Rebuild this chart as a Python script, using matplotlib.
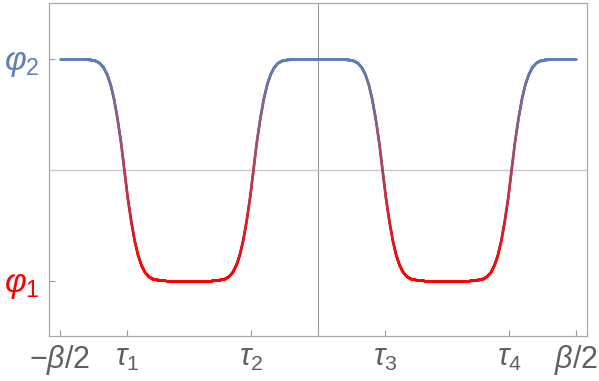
import numpy as np
import matplotlib
matplotlib.use('Agg')
import matplotlib.pyplot as plt
from matplotlib.collections import LineCollection
from matplotlib.colors import to_rgb

plt.rcParams['mathtext.fontset'] = 'custom'
plt.rcParams['mathtext.rm'] = 'Liberation Sans'
plt.rcParams['mathtext.it'] = 'Liberation Sans:italic'
plt.rcParams['font.family'] = 'Liberation Sans'

# kink centres (tau_i) and direction (-1: falling, +1: rising)
kink_x = [-0.75, -0.25, 0.25, 0.75]
kink_dir = [-1, 1, -1, 1]
# one falling kink (offset from centre, value)
prof_dx = [-0.16, -0.13, -0.11, -0.095, -0.08, -0.066, -0.053, -0.04,
           -0.027, -0.013, 0.0, 0.013, 0.027, 0.04, 0.053, 0.066,
           0.08, 0.095, 0.11, 0.13, 0.16]
prof_y = [1.0, 0.995, 0.985, 0.965, 0.925, 0.86, 0.77, 0.64,
          0.47, 0.25, 0.0, -0.25, -0.47, -0.64, -0.77, -0.86,
          -0.925, -0.965, -0.985, -0.995, -1.0]

xticks = [-1.0, -0.74, -0.26, 0.26, 0.74, 1.0]
xlabels = [r'$-\beta/2$', r'$\tau_1$', r'$\tau_2$', r'$\tau_3$', r'$\tau_4$', r'$\beta/2$']
yticks = [-1.0, 1.0]
ylabels = [r'$\varphi_1$', r'$\varphi_2$']

blue = '#5E81B5'
red = '#FF0000'

# assemble the curve from the kinks
px, py = [-1.0], [1.0]
for xc, d in zip(kink_x, kink_dir):
    for dx, yv in zip(prof_dx, prof_y):
        px.append(xc + dx)
        py.append(-yv if d > 0 else yv)
px.append(1.0)
py.append(1.0)

x = np.linspace(-1, 1, 3000)
y = np.interp(x, px, py)

fig = plt.figure(figsize=(5.99, 3.81), dpi=100)
ax = fig.add_axes([49/599, 1 - 336/381, (587-49)/599, (336-3)/381])

ax.axvline(0, color='#9a9a9a', lw=0.8, zorder=1)
ax.axhline(0, color='#c8c8c8', lw=1.0, zorder=1)

pts = np.column_stack([x, y]).reshape(-1, 1, 2)
segs = np.concatenate([pts[:-1], pts[1:]], axis=1)
t = ((y[:-1] + y[1:]) / 2 + 1) / 2
cb, cr = np.array(to_rgb(blue)), np.array(to_rgb(red))
cols = cr[None, :] * (1 - t[:, None]) + cb[None, :] * t[:, None]
lc = LineCollection(segs, colors=cols, linewidths=1.9, capstyle='round', zorder=3)
ax.add_collection(lc)

ax.set_xlim(-1.042, 1.042)
ax.set_ylim(-1.5, 1.51)

ax.set_xticks(xticks)
ax.set_xticklabels(xlabels, fontsize=22, color='#606060')
ax.set_yticks(yticks)
ax.set_yticklabels(ylabels, fontsize=24)
for lab, c in zip(ax.get_yticklabels(), [red, blue]):
    lab.set_color(c)
ax.tick_params(direction='in', length=4, width=0.8, color='#9a9a9a', pad=5)
ax.tick_params(axis='y', pad=7)
for s in ax.spines.values():
    s.set_color('#a8a8a8')
    s.set_linewidth(0.9)

fig.savefig('out.png', dpi=100)
